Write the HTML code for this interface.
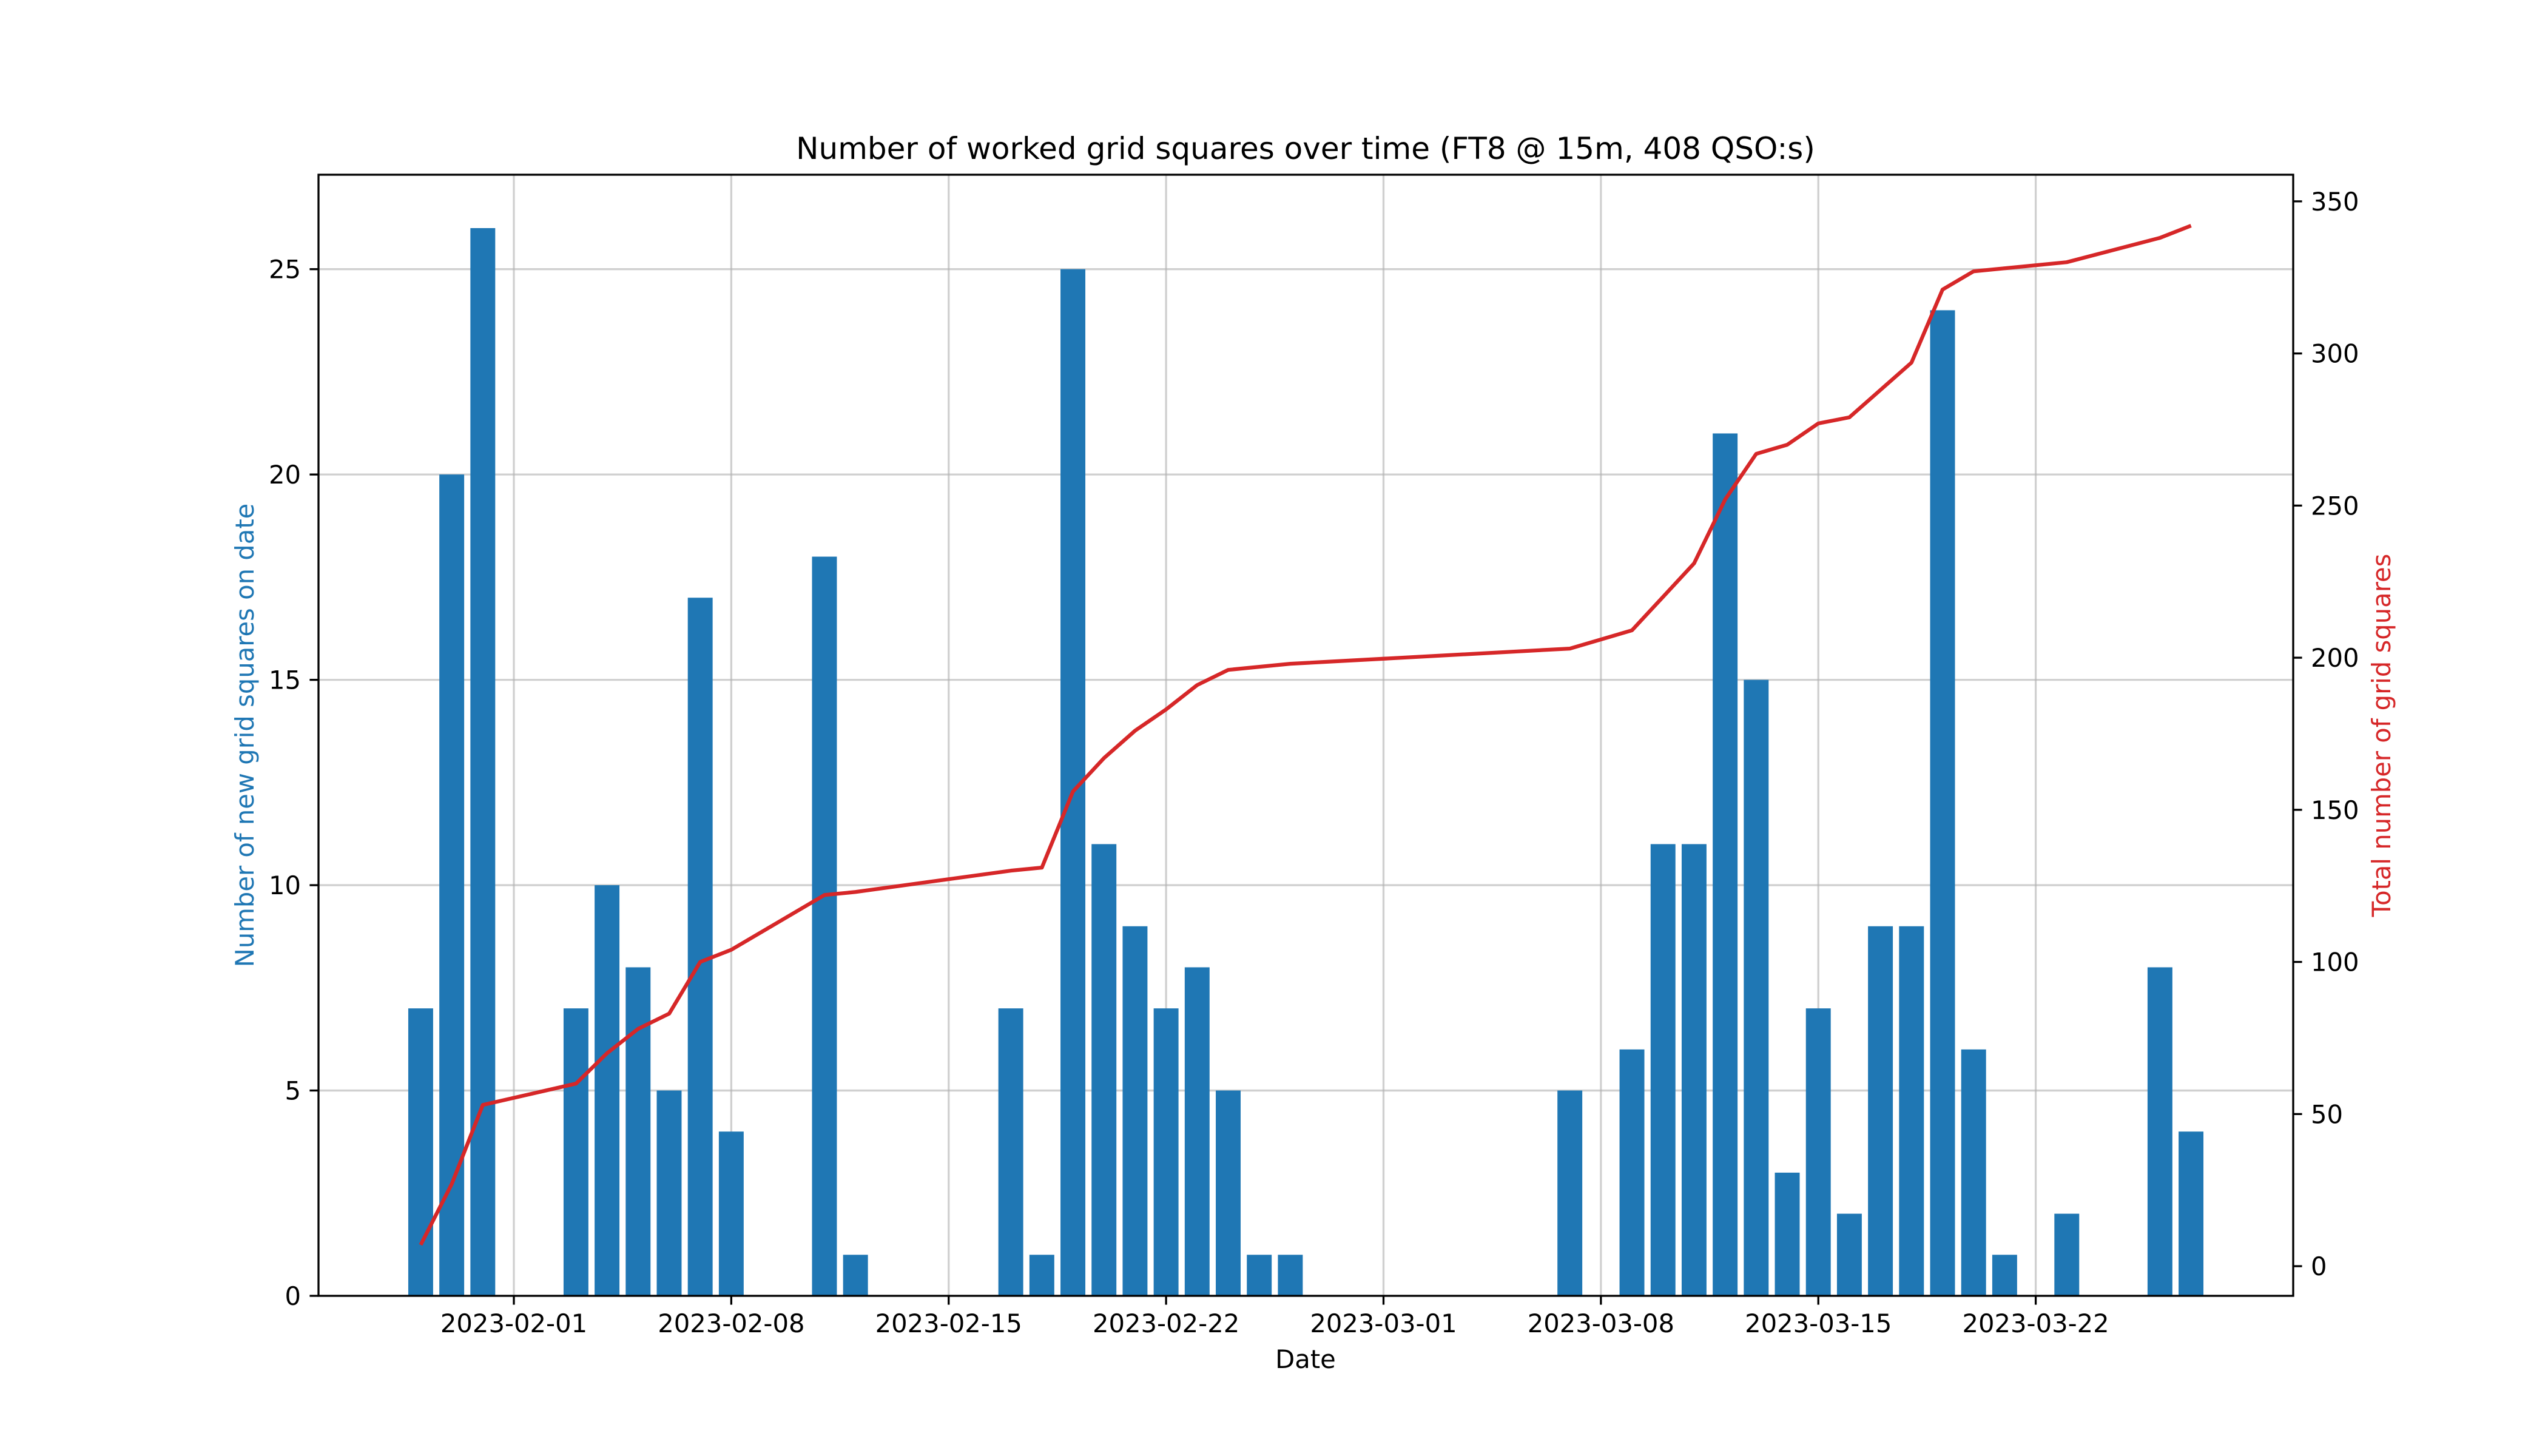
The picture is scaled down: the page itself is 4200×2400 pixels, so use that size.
<!DOCTYPE html>
<html><head><meta charset="utf-8"><style>
html,body{margin:0;padding:0;background:#fff}
svg{display:block;font-family:"DejaVu Sans","Liberation Sans",sans-serif}
</style></head><body>
<svg id="chart" width="4200" height="2400" viewBox="0 0 4200 2400" xmlns="http://www.w3.org/2000/svg">
<rect width="4200" height="2400" fill="#fff"/>
<g id="grid"></g><g id="bars"></g><g id="line"></g><g id="axes"></g>
<text x="2152" y="262" font-size="50" text-anchor="middle">Number of worked grid squares over time (FT8 @ 15m, 408 QSO:s)</text>
<text x="2152" y="2255" font-size="41.7" text-anchor="middle">Date</text>
<text transform="translate(418,1212) rotate(-90)" font-size="41.7" text-anchor="middle" fill="#1f77b4">Number of new grid squares on date</text>
<text transform="translate(3940,1212) rotate(-90)" font-size="41.7" text-anchor="middle" fill="#d62728">Total number of grid squares</text>
</svg>
<script>
const dates=["2023-01-29","2023-01-30","2023-01-31","2023-02-03","2023-02-04","2023-02-05","2023-02-06","2023-02-07","2023-02-08","2023-02-11","2023-02-12","2023-02-17","2023-02-18","2023-02-19","2023-02-20","2023-02-21","2023-02-22","2023-02-23","2023-02-24","2023-02-25","2023-02-26","2023-03-07","2023-03-09","2023-03-10","2023-03-11","2023-03-12","2023-03-13","2023-03-14","2023-03-15","2023-03-16","2023-03-17","2023-03-18","2023-03-19","2023-03-20","2023-03-21","2023-03-23","2023-03-26","2023-03-27"];
const newCounts=[7,20,26,7,10,8,5,17,4,18,1,7,1,25,11,9,7,8,5,1,1,5,6,11,11,21,15,3,7,2,9,9,24,6,1,2,8,4];
const xTickLabels=["2023-02-01","2023-02-08","2023-02-15","2023-02-22","2023-03-01","2023-03-08","2023-03-15","2023-03-22"];
const leftTicks=[0,5,10,15,20,25];
const rightTicks=[0,50,100,150,200,250,300,350];
const NS="http://www.w3.org/2000/svg";
const L=525,R=3780,T=288,B=2136;
const day=t=>Date.parse(t+"T00:00:00Z")/86400000;
const dn=dates.map(day);
const cum=[];let s=0;newCounts.forEach(v=>{s+=v;cum.push(s);});
const lo=Math.min(...dn)-0.4,hi=Math.max(...dn)+0.4,rg=hi-lo;
const x0=lo-0.05*rg,x1=hi+0.05*rg;
const X=d=>L+(d-x0)/(x1-x0)*(R-L);
const lMax=Math.max(...newCounts)*1.05;
const YL=v=>B-v/lMax*(B-T);
const cMin=Math.min(...cum),cMax=Math.max(...cum),cr=cMax-cMin;
const r0=cMin-0.05*cr,r1=cMax+0.05*cr;
const YR=v=>B-(v-r0)/(r1-r0)*(B-T);
function mk(tag,a,p){const e=document.createElementNS(NS,tag);for(const k in a)e.setAttribute(k,a[k]);p.appendChild(e);return e;}
const grid=document.getElementById('grid'),bars=document.getElementById('bars'),line=document.getElementById('line'),axes=document.getElementById('axes');
xTickLabels.forEach(t=>{const x=X(day(t));
 const g=mk('line',{x1:x,x2:x,y1:T,y2:B,stroke:'#b0b0b0','stroke-opacity':0.6,'stroke-width':3.3},grid);
 
 const tk=mk('line',{x1:x,x2:x,y1:B,y2:B+14.6,stroke:'#000','stroke-width':3.3},axes);
 
 const lb=mk('text',{x:x,y:B+60,'font-size':41.7,'text-anchor':'middle'},axes);lb.textContent=t;
 });
leftTicks.forEach(v=>{const y=YL(v);
 const g=mk('line',{x1:L,x2:R,y1:y,y2:y,stroke:'#b0b0b0','stroke-opacity':0.6,'stroke-width':3.3},grid);
 
 const tk=mk('line',{x1:L-14.6,x2:L,y1:y,y2:y,stroke:'#000','stroke-width':3.3},axes);
 
 const lb=mk('text',{x:L-29,y:y+15,'font-size':41.7,'text-anchor':'end'},axes);lb.textContent=v;
 });
rightTicks.forEach(v=>{const y=YR(v);
 const tk=mk('line',{x1:R,x2:R+14.6,y1:y,y2:y,stroke:'#000','stroke-width':3.3},axes);
 
 const lb=mk('text',{x:R+29,y:y+15,'font-size':41.7,'text-anchor':'start'},axes);lb.textContent=v;
 });
const bw=X(0.8)-X(0);
dn.forEach((d,i)=>{const y=YL(newCounts[i]);
 const b=mk('rect',{x:X(d)-bw/2,y:y,width:bw,height:B-y,fill:'#1f77b4'},bars);
 });
const p=mk('polyline',{points:dn.map((d,i)=>X(d)+','+YR(cum[i])).join(' '),fill:'none',stroke:'#d62728','stroke-width':6.25,'stroke-linejoin':'round'},line);

const f=mk('rect',{x:L,y:T,width:R-L,height:B-T,fill:'none',stroke:'#000','stroke-width':3.3},axes);

</script>
</body></html>
